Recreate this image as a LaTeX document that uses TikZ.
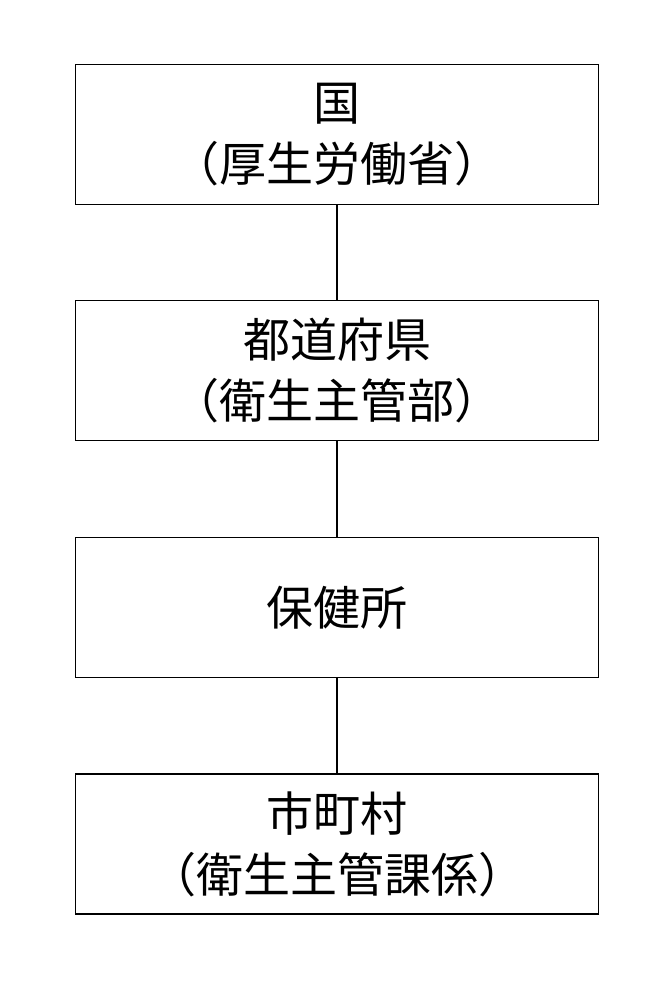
\documentclass[tikz,border=0pt]{standalone}
\usepackage{fontspec}
\newfontfamily\cjk{Noto Sans CJK JP}
\begin{document}
\begin{tikzpicture}[x=1pt,y=-1pt,
  orgbox/.style={draw=black,line width=1.8pt,minimum width=523pt,minimum height=140pt,align=center,inner sep=0pt,
    font=\cjk\fontsize{47}{61}\selectfont},
  link/.style={draw=black,line width=1.2pt}]
\useasboundingbox (0,0) rectangle (671,1000);
\fill[white] (0,0) rectangle (671,1000);
\node[orgbox] (kuni) at (337,134.5) {国\\（厚生労働省）};
\node[orgbox] (ken) at (337,370.5) {都道府県\\（衛生主管部）};
\node[orgbox] (hoken) at (337,607.5) {保健所};
\node[orgbox] (shi) at (337,844) {市町村\\（衛生主管課係）};
\draw[link] (kuni) -- (ken);
\draw[link] (ken) -- (hoken);
\draw[link] (hoken) -- (shi);
\end{tikzpicture}
\end{document}
